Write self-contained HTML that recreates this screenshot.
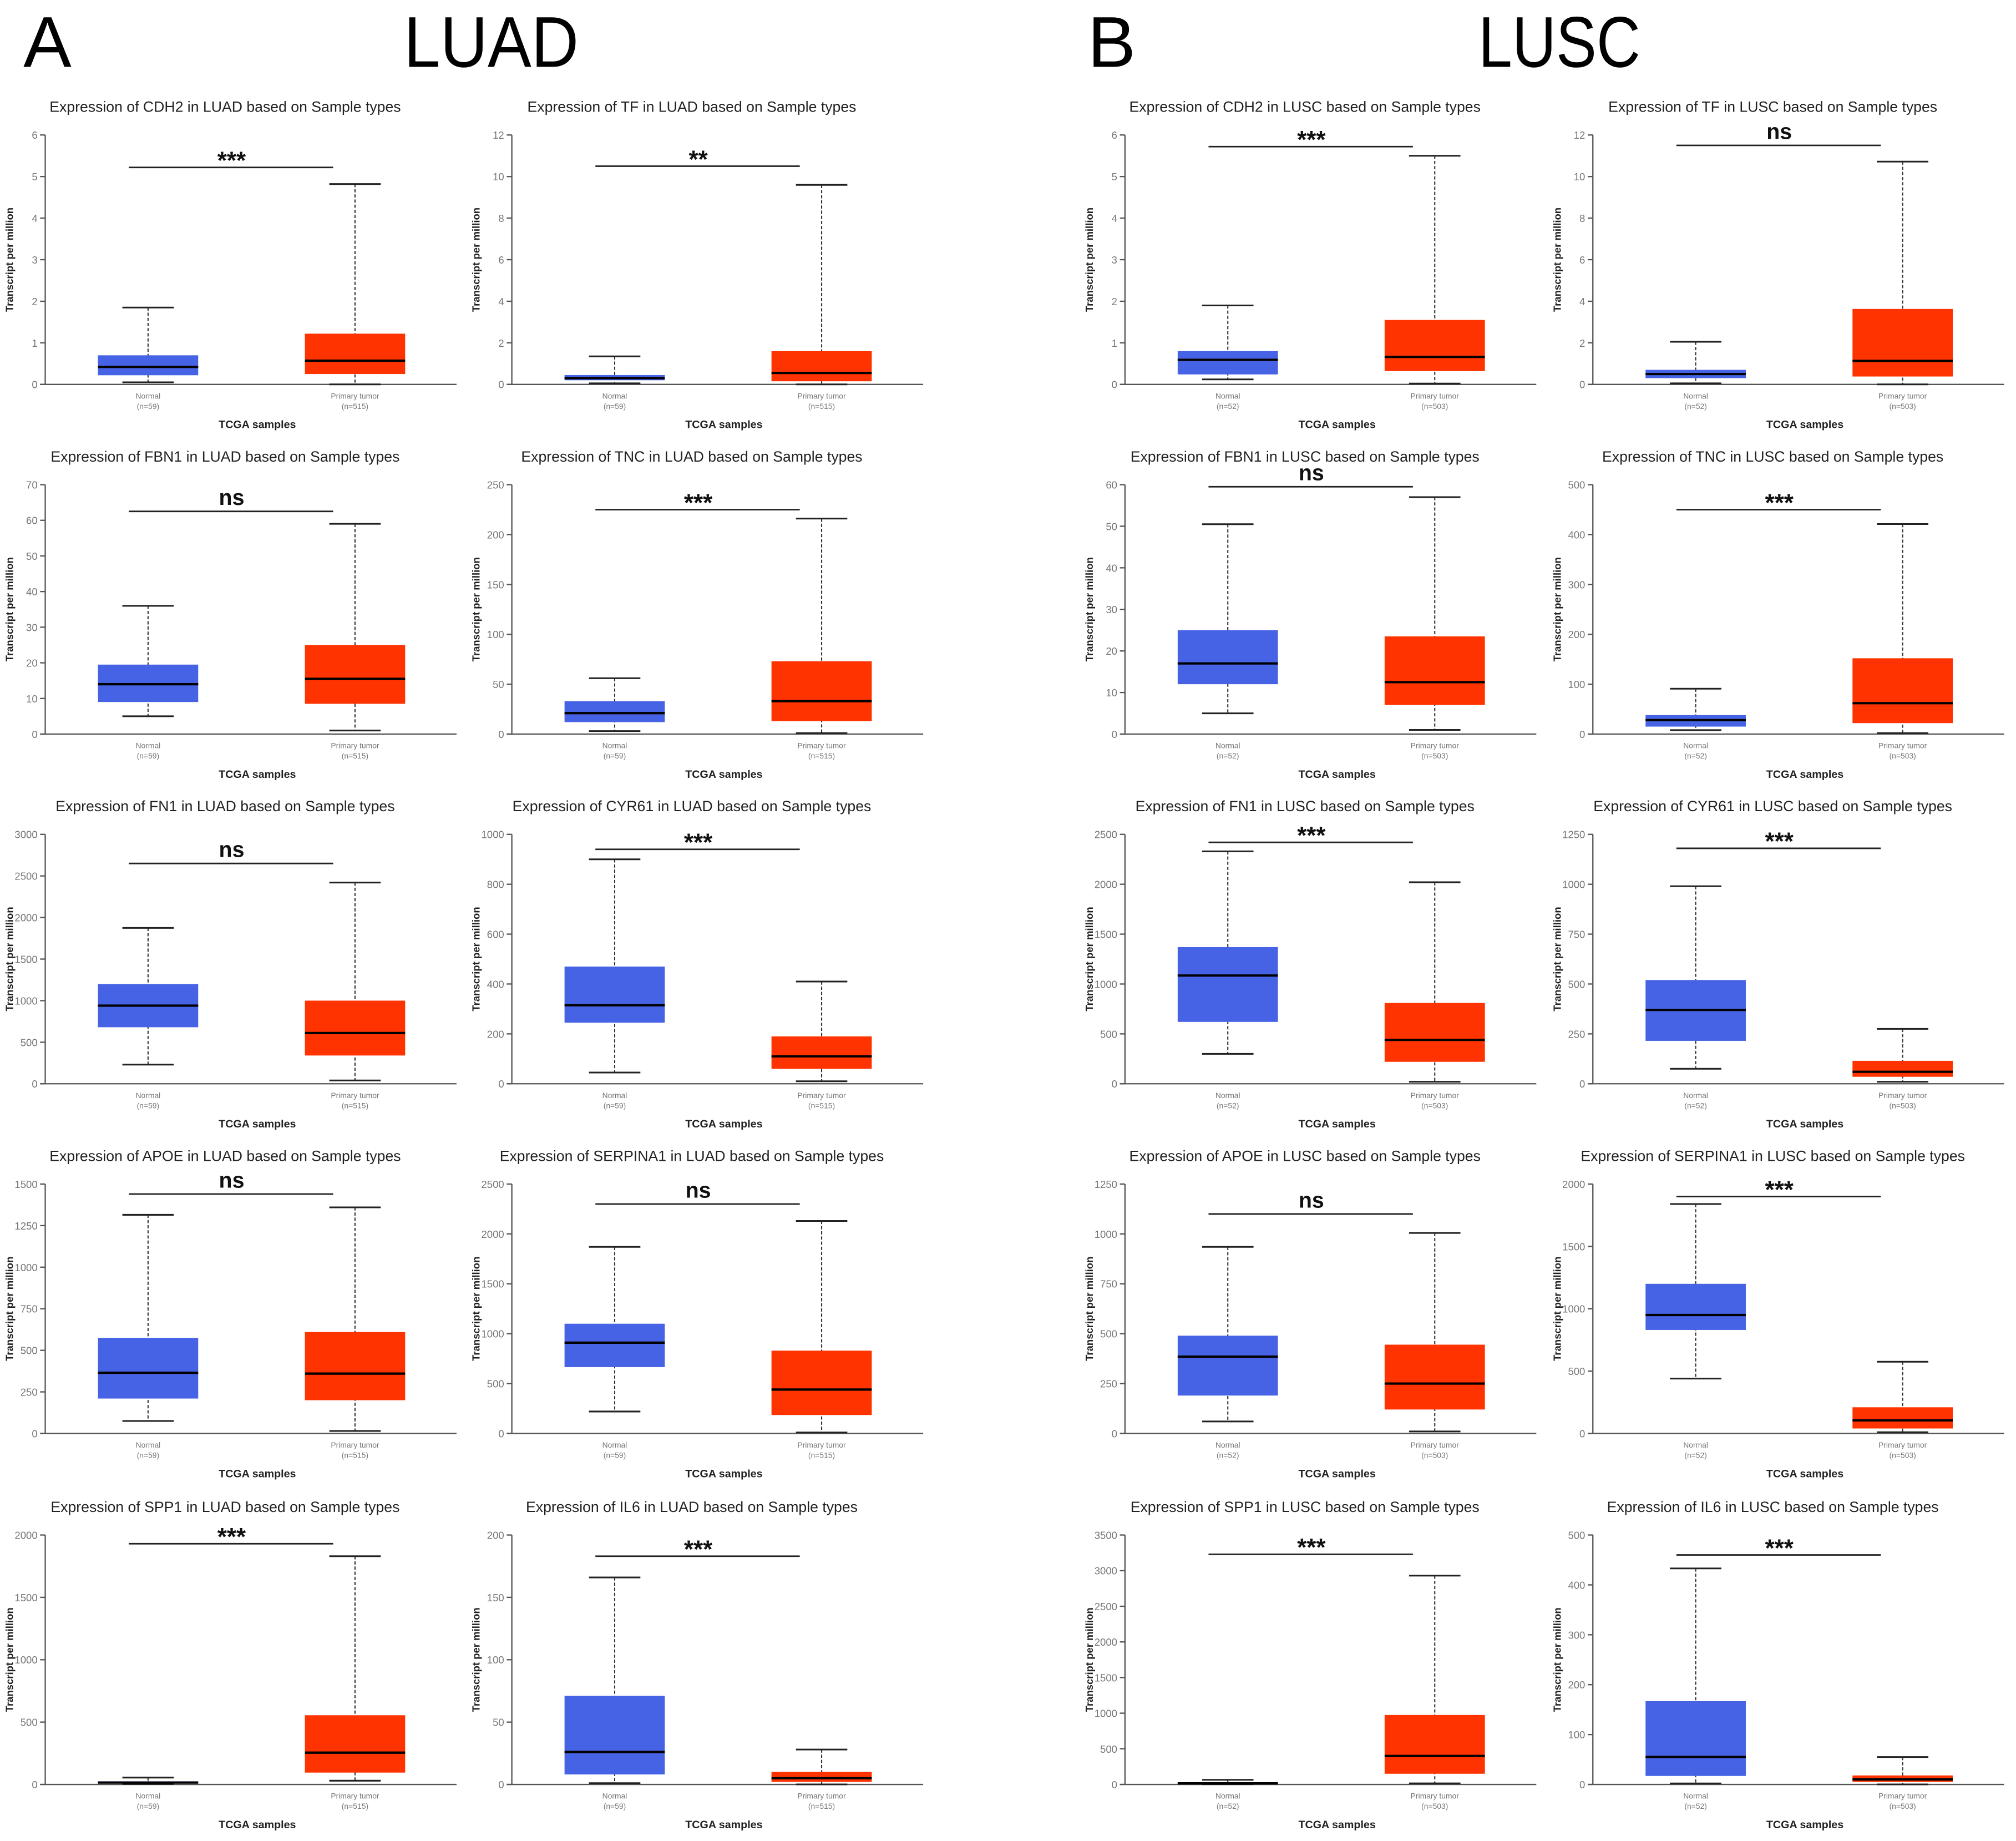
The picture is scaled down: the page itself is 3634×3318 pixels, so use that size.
<!DOCTYPE html>
<html><head><meta charset="utf-8"><style>
html,body{margin:0;padding:0;background:#fff;}
svg{display:block;}
text{font-family:"Liberation Sans",sans-serif;}
</style></head><body>
<svg id="fig" width="3634" height="3318" viewBox="0 0 1568 1432" xmlns="http://www.w3.org/2000/svg">
<text x="18" y="52" font-size="56">A</text>
<text x="382" y="52" font-size="56" text-anchor="middle" textLength="136" lengthAdjust="spacingAndGlyphs">LUAD</text>
<text x="846" y="52" font-size="56">B</text>
<text x="1213" y="52" font-size="56" text-anchor="middle" textLength="126" lengthAdjust="spacingAndGlyphs">LUSC</text>
</svg>
<script>
// chart data (one entry per panel, row-major)
const genes = ["CDH2","TF","CDH2","TF","FBN1","TNC","FBN1","TNC","FN1","CYR61","FN1","CYR61","APOE","SERPINA1","APOE","SERPINA1","SPP1","IL6","SPP1","IL6"];
const cohorts = ["LUAD","LUAD","LUSC","LUSC"];
const yMaxes = [6,12,6,12, 70,250,60,500, 3000,1000,2500,1250, 1500,2500,1250,2000, 2000,200,3500,500];
const ySteps = [1,2,1,2, 10,50,10,100, 500,200,500,250, 250,500,250,500, 500,50,500,100];
// [min, q1, median, q3, max]
const normalStats = [
 [0.05,0.22,0.42,0.7,1.85],[0.05,0.2,0.3,0.45,1.35],[0.12,0.24,0.59,0.8,1.9],[0.05,0.3,0.5,0.7,2.05],
 [5,9,14,19.5,36],[3,12,21,33,56],[5,12,17,25,50.5],[8,15,28,38,91],
 [230,680,940,1200,1875],[45,245,315,470,900],[300,620,1085,1370,2330],[75,215,370,520,990],
 [75,210,365,575,1315],[220,665,910,1100,1870],[60,190,385,490,935],[440,830,950,1200,1840],
 [3,8,15,25,55],[1,8,26,71,166],[3,8,15,25,65],[2,17,55,167,433]];
const tumorStats = [
 [0,0.25,0.57,1.22,4.82],[0,0.15,0.55,1.6,9.6],[0.02,0.32,0.66,1.55,5.5],[0,0.38,1.13,3.63,10.72],
 [1,8.5,15.5,25,59],[1,13,33,73,216],[1,7,12.5,23.5,57],[2,22,62,152,421],
 [40,340,610,1000,2420],[10,60,110,190,410],[20,220,440,810,2020],[10,35,60,115,275],
 [15,200,360,610,1360],[10,185,440,830,2130],[10,120,250,445,1005],[10,40,105,210,575],
 [30,95,255,555,1830],[0,2,5,10,28],[15,150,400,975,2930],[0,5,10,18,55]];
const sigLabels = ["***","**","***","ns","ns","***","ns","***","ns","***","***","***","ns","ns","ns","***","***","***","***","***"];
const sigLevels = [5.22,10.5,5.72,11.5, 62.5,225,59.5,450, 2650,940,2420,1180, 1440,2300,1100,1900, 1930,183,3230,460];
const nNormal = {LUAD:59, LUSC:52};
const nTumor = {LUAD:515, LUSC:503};

const NS="http://www.w3.org/2000/svg";
const svg=document.getElementById('fig');
const colX=[35,398,875,1239];
const rowZero=[299,571,843,1115,1388];
const plotH=194;
function mk(tag,attrs,parent){const e=document.createElementNS(NS,tag);for(const k in attrs)e.setAttribute(k,attrs[k]);(parent||svg).appendChild(e);return e;}

genes.forEach((g,i)=>{
  const r=Math.floor(i/4), c=i%4, coh=cohorts[c];
  const ax=colX[c], y0=rowZero[r], yTop=y0-plotH;
  const ymax=yMaxes[i];
  const ys=v=>y0-v/ymax*plotH;
  const grp=mk('g',{});
  
  
  const t=mk('text',{x:ax+140,y:y0-212,'font-size':11.5,'text-anchor':'middle',fill:'#222'},grp);
  t.textContent='Expression of '+g+' in '+coh+' based on Sample types';
  
  
  const ya=mk('line',{x1:ax,y1:yTop,x2:ax,y2:y0,stroke:'#555','stroke-width':1},grp);
  
  
  const xa=mk('line',{x1:ax-4,y1:y0,x2:ax+320,y2:y0,stroke:'#555','stroke-width':1},grp);
  
  
  for(let v=0;v<=ymax+1e-9;v+=ySteps[i]){
    const y=ys(v);
    mk('line',{x1:ax-4,y1:y,x2:ax,y2:y,stroke:'#555','stroke-width':1},grp);
    const tl=mk('text',{x:ax-6,y:y+3,'font-size':8,'text-anchor':'end',fill:'#777'},grp);
    tl.textContent=String(v);
    
    
  }
  const yt=mk('text',{x:0,y:0,'font-size':8,'font-weight':'bold','text-anchor':'middle',fill:'#222',transform:`translate(${ax-25},${y0-plotH/2}) rotate(-90)`},grp);
  yt.textContent='Transcript per million';
  
  
  const xt=mk('text',{x:ax+165,y:y0+34,'font-size':8.5,'font-weight':'bold','text-anchor':'middle',fill:'#222'},grp);
  xt.textContent='TCGA samples';
  
  
  [[normalStats[i],ax+80,'#4763e5','Normal','(n='+nNormal[coh]+')','box-normal'],
   [tumorStats[i],ax+241,'#ff3300','Primary tumor','(n='+nTumor[coh]+')','box-tumor']].forEach(([s,cx,col,lab,n,nm])=>{
    const b=mk('g',{},grp);
    
    
    mk('line',{x1:cx,y1:ys(s[4]),x2:cx,y2:ys(s[0]),stroke:'#333','stroke-width':0.9,'stroke-dasharray':'2.5,1.5'},b);
    mk('line',{x1:cx-20,y1:ys(s[4]),x2:cx+20,y2:ys(s[4]),stroke:'#222','stroke-width':1.3},b);
    mk('line',{x1:cx-20,y1:ys(s[0]),x2:cx+20,y2:ys(s[0]),stroke:'#222','stroke-width':1.3},b);
    mk('rect',{x:cx-39,y:ys(s[3]),width:78,height:Math.max(ys(s[1])-ys(s[3]),0.5),fill:col},b);
    mk('line',{x1:cx-39,y1:ys(s[2]),x2:cx+39,y2:ys(s[2]),stroke:'#000','stroke-width':1.8},b);
    const l1=mk('text',{x:cx,y:y0+11,'font-size':6,'text-anchor':'middle',fill:'#777'},grp);
    l1.textContent=lab;
    
    
    const l2=mk('text',{x:cx,y:y0+19,'font-size':6,'text-anchor':'middle',fill:'#777'},grp);
    l2.textContent=n;
    
    
  });
  const sy=ys(sigLevels[i]);
  const sl=mk('line',{x1:ax+65,y1:sy,x2:ax+224,y2:sy,stroke:'#222','stroke-width':1.2},grp);
  
  
  const st=mk('text',{x:ax+145,y:sigLabels[i]==='ns'?sy-5:sy+1,'font-size':sigLabels[i]==='ns'?17:19,'font-weight':'bold','text-anchor':'middle',fill:'#111'},grp);
  st.textContent=sigLabels[i];
  
  
});
</script>
</body></html>
